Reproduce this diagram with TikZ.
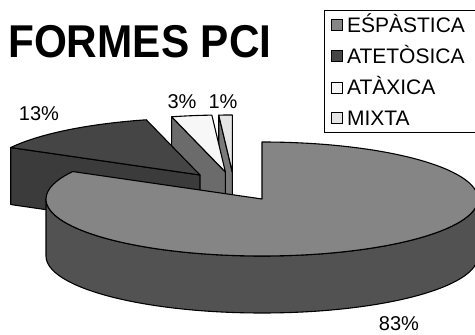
\documentclass[tikz,border=0pt]{standalone}
\usepackage{fontspec}
\setmainfont{Liberation Sans}
\usetikzlibrary{calc,positioning}
\definecolor{esptop}{gray}{0.52}
\definecolor{espside}{gray}{0.32}
\definecolor{atetop}{gray}{0.27}
\definecolor{ateside}{gray}{0.23}
\definecolor{atxtop}{gray}{0.97}
\definecolor{atxside}{gray}{0.42}
\definecolor{mixtop}{gray}{0.90}
\definecolor{mixside}{gray}{0.48}
\tikzset{
disc/.style={x radius=216,y radius=57},
edge/.style={draw=black,line width=1.1pt,line join=round},
key/.style={draw=black,line width=0.7pt,minimum size=11pt,inner sep=0pt},
keytext/.style={
  font=\fontsize{21}{21}\selectfont,
  text height=15pt,
  text depth=0pt,
  inner sep=0pt
  },
pct/.style={font=\fontsize{20}{20}\selectfont,inner sep=0pt}
}
\begin{document}
\begin{tikzpicture}[x=1pt,y=1pt]
            \useasboundingbox (0,0) rectangle (475,335);
            \fill[white] (0,0) rectangle (475,335);
            % slice apexes
            \coordinate (esp) at (262,136);
            \coordinate (ate) at (200,160);
            \coordinate (atx) at (225.4,163);
            \coordinate (mix) at (232.3,163);
            % 1% slice
            \filldraw[edge,fill=mixside] (mix) -- ++(93.6:216 and 57) -- ++(0,-57) -- ($(mix)+(0,-57)$) -- cycle;
            \filldraw[edge,fill=mixtop,disc] (mix) -- ++(93.6:216 and 57) arc[start angle=93.6,end angle=90] -- cycle;
            % 3% slice
            \filldraw[edge,fill=atxside] (atx) -- ++(104.4:216 and 57) -- ++(0,-57) -- ($(atx)+(0,-57)$) -- cycle;
            \filldraw[edge,fill=atxtop,disc] (atx) -- ++(104.4:216 and 57) arc[start angle=104.4,end angle=93.6] -- cycle;
            % 13% slice
            \filldraw[edge,fill=ateside] (ate) -- ++(151.2:216 and 57) -- ++(0,-57) -- ($(ate)+(0,-57)$) -- cycle;
            \filldraw[edge,fill=atetop,disc] (ate) -- ++(151.2:216 and 57) arc[start angle=151.2,end angle=104.4] -- cycle;
            % 83% slice
            \filldraw[edge,fill=espside,disc] ($(esp)+(180:216 and 57)$) arc[start angle=180,end angle=360] -- ++(0,-57) arc[start angle=360,end angle=180] -- cycle;
            \filldraw[edge,fill=esptop,disc] (esp) -- ++(90:216 and 57) arc[start angle=90,end angle=-208.8] -- cycle;
            % labels
            \node[anchor=base west,font=\bfseries\fontsize{46}{46}\selectfont,inner sep=0pt,xscale=0.92] (title) at (8,277) {FORMES PCI};
            \node[pct] (p13) at (39,221) {13\%};
            \node[pct] (p3) at (182,233.5) {3\%};
            \node[pct] (p1) at (223,233.5) {1\%};
            \node[pct] (p83) at (399,11) {83\%};
            % legend
            \node[draw=black,line width=0.6pt,minimum width=160,minimum height=122,anchor=north west,inner sep=0pt] (legend) at (324,325) {};
            \node[key,fill=esptop] (k1) at (337,310) {};
            \node[key,fill=atetop,below=19.5pt of k1] (k2) {};
            \node[key,fill=atxtop,below=19.5pt of k2] (k3) {};
            \node[key,fill=mixtop,below=19pt of k3] (k4) {};
            \node[keytext,right=4pt of k1] (t1) {EŚPÀSTICA};
            \node[keytext,right=4pt of k2] (t2) {ATETÒSICA};
            \node[keytext,right=4pt of k3] (t3) {ATÀXICA};
            \node[keytext,right=4pt of k4] (t4) {MIXTA};
        \end{tikzpicture}
\end{document}
